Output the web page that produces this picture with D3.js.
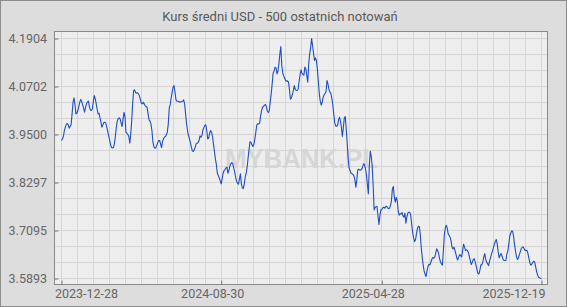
<!DOCTYPE html>
<html>
<head>
<meta charset="utf-8">
<script src="https://cdn.jsdelivr.net/npm/d3@7"></script>
<style>
body { margin: 0; background: #ffffff; }
#ChartContainer { width: 567px; height: 307px; }
</style>
</head>
<body>
<div id="ChartContainer"></div>
<script>
const ChartTitle = 'Kurs średni USD - 500 ostatnich notowań';
const Watermark = 'MYBANK.PL';

// 500 ostatnich notowań, od najstarszego
const Rates =
[
    3.9349,3.9390,3.9449,3.9599,3.9683,3.9758,3.9774,3.9741,3.9657,3.9708,
    3.9741,4.0017,4.0309,4.0417,4.0250,4.0017,4.0033,4.0100,4.0200,4.0309,
    4.0376,4.0325,4.0242,4.0158,4.0058,4.0184,4.0267,4.0317,4.0334,4.0200,
    4.0108,4.0100,4.0133,4.0309,4.0476,4.0401,4.0284,4.0142,4.0017,4.0033,
    3.9916,3.9808,3.9683,3.9741,3.9799,3.9808,3.9783,3.9699,3.9582,3.9474,
    3.9365,3.9248,3.9173,3.9165,3.9173,3.9265,3.9449,3.9683,3.9833,3.9900,
    3.9916,3.9883,3.9783,3.9699,3.9891,4.0058,3.9950,3.9557,3.9532,3.9499,
    3.9449,3.9282,3.9516,3.9850,4.0284,4.0601,4.0618,4.0551,4.0534,4.0543,
    4.0518,4.0467,4.0376,4.0284,4.0267,4.0309,4.0267,4.0217,4.0200,4.0184,
    4.0017,3.9866,
    3.9833,3.9766,3.9599,3.9323,3.9198,3.9156,3.9165,3.9223,3.9290,3.9349,
    3.9349,3.9265,3.9173,3.9323,3.9390,3.9432,3.9449,3.9490,3.9557,3.9766,
    4.0158,4.0250,4.0409,4.0559,4.0685,4.0726,4.0559,4.0367,4.0334,4.0334,
    4.0325,4.0309,4.0317,4.0325,4.0334,4.0367,4.0267,4.0017,3.9766,3.9599,
    3.9474,3.9390,3.9298,3.9182,3.9090,3.9073,3.9115,3.9182,3.9265,3.9282,
    3.9298,3.9349,3.9465,3.9432,3.9474,3.9616,3.9666,3.9733,3.9741,3.9599,
    3.9390,3.9407,3.9532,3.9599,3.9557,3.9449,3.9257,3.9073,3.8889,3.8747,
    3.8530,3.8472,3.8413,3.8338,3.8263,3.8388,3.8530,3.8597,3.8622,3.8664,
    3.8681,3.8530,3.8597,3.8706,3.8764,3.8797,3.8764,3.8664,3.8572,3.8430,
    3.8330,3.8280,3.8255,3.8388,3.8514,3.8263,3.8163,3.8146,3.8263,3.8430,
    3.8530,3.8681,3.8914,3.9131,3.9323,3.9298,3.9240,3.9198,3.9248,3.9382,
    3.9557,3.9733,3.9766,3.9766,3.9783,3.9966,4.0100,4.0184,4.0200,4.0234,
    4.0250,4.0200,4.0083,4.0050,4.0100,4.0309,4.0518,4.0768,4.1035,4.1094,
    4.1186,4.1169,4.1019,4.1085,4.1269,4.1520,4.1703,4.1227,4.1035,4.0968,
    4.0910,4.0852,4.0835,4.0843,4.0810,4.0618,4.0384,4.0417,4.0501,4.0601,
    4.0726,4.0634,4.0601,4.0601,4.0634,4.0826,4.0993,4.1119,4.1035,4.1002,
    4.0985,4.1186,4.1144,4.0977,4.0810,4.1269,4.1520,4.1670,4.1904,4.1728,
    4.1536,4.1353,4.1419,4.1353,4.1144,4.0835,4.0518,4.0334,4.0234,4.0300,
    4.0434,4.0492,4.0526,4.0576,4.0852,4.0768,4.0634,4.0559,4.0534,4.0409,
    4.0250,4.0017,3.9799,3.9716,3.9708,3.9724,3.9866,3.9933,3.9833,3.9683,
    3.9449,3.9674,3.9916,3.9950,3.9641,3.9282,3.8898,3.8664,3.8597,3.8530,
    3.8522,3.8497,3.8463,3.8363,3.8180,3.8363,3.8614,3.8630,3.8605,3.8605,
    3.8630,3.8681,3.8764,3.8747,3.8647,3.8488,3.8246,3.8013,3.8722,3.9081,
    3.8948,3.8714,3.8221,3.7612,3.7670,3.7695,3.7695,3.7470,3.7244,3.7461,
    3.7612,3.7620,3.7662,3.7679,3.7653,3.7695,3.7704,3.7662,3.7645,3.7653,
    3.7720,3.7846,3.8138,3.8196,3.7929,3.7804,3.7929,3.7846,3.7595,3.7478,
    3.7512,3.7512,3.7545,3.7461,3.7428,3.7528,3.7278,3.7428,3.7528,3.7553,
    3.7553,3.7486,3.7261,3.7052,3.6910,3.6818,3.6860,3.7011,3.7144,3.7203,
    3.7194,3.6994,3.6660,3.6426,3.6234,3.6075,3.6000,3.5942,3.6092,3.6192,
    3.6251,3.6234,3.6301,3.6376,3.6418,3.6401,3.6426,3.6526,3.6635,3.6593,
    3.6526,3.6393,3.6309,3.6259,3.6226,3.6593,3.6994,3.7161,3.7228,3.7152,
    3.7011,3.6969,3.6927,3.6827,3.6677,3.6635,3.6677,3.6601,3.6510,3.6401,
    3.6359,3.6434,3.6493,3.6459,3.6434,3.6593,3.6752,3.6685,3.6593,3.6610,
    3.6593,3.6543,3.6443,3.6343,3.6242,3.6292,3.6368,3.6393,3.6309,3.6217,
    3.6109,3.6017,3.6009,3.6109,3.6234,3.6234,3.6309,3.6434,3.6518,3.6376,
    3.6301,3.6259,3.6217,3.6326,3.6418,3.6510,3.6576,3.6668,3.6752,3.6818,
    3.6869,3.6760,3.6551,3.6409,3.6476,3.6518,3.6451,3.6376,3.6343,3.6343,
    3.6343,3.6510,3.6576,3.6760,3.6952,3.7027,3.7086,3.7077,3.6944,3.6735,
    3.6576,3.6443,3.6368,3.6401,3.6493,3.6568,3.6643,3.6677,3.6685,3.6635,
    3.6593,3.6601,3.6593,3.6510,3.6393,3.6276,3.6226,3.6259,3.6301,3.6326,
    3.6301,3.6176,3.6059,3.5975,3.5925,3.5910,3.5900,3.5893
];

const XTickIndex = [0, 166, 333, 499];
const XTickLabels = ['2023-12-28', '2024-08-30', '2025-04-28', '2025-12-19'];
const YTickValues = [3.5893, 3.7095, 3.8297, 3.9500, 4.0702, 4.1904];

function DrawChart()
{
    const Width = 567;
    const Height = 307;
    const Plot = { left: 54.5, right: 547.5, top: 31.5, bottom: 284.5 };
    const FontFamily = 'Roboto, "Liberation Sans", Arial, sans-serif';

    const Svg = d3.select('#ChartContainer')
                  .append('svg')
                  .attr('width', Width)
                  .attr('height', Height);

    Svg.append('rect')
       .attr('x', 0.5).attr('y', 0.5)
       .attr('width', Width - 1).attr('height', Height - 1)
       .attr('fill', '#dddddd')
       .attr('stroke', '#8c8c8c');

    Svg.append('text')
       .attr('x', 280)
       .attr('y', 21)
       .attr('text-anchor', 'middle')
       .style('font-family', FontFamily)
       .style('font-size', '13px')
       .attr('fill', '#595959')
       .text(ChartTitle);

    Svg.append('rect')
       .attr('x', Plot.left).attr('y', Plot.top)
       .attr('width', Plot.right - Plot.left).attr('height', Plot.bottom - Plot.top)
       .attr('fill', '#eeeeee');

    const xScale = d3.scaleLinear()
                     .domain([0, Rates.length - 1])
                     .range([61.5, 541.5]);
    const yScale = d3.scaleLinear()
                     .domain([YTickValues[0], YTickValues[YTickValues.length - 1]])
                     .range([278.5, 38.5]);

    // siatka: 30 podziałek w poziomie, 15 w pionie
    const GridX = d3.range(31).map(k => xScale.domain()[0] + k * (xScale.domain()[1] - xScale.domain()[0]) / 30);
    const GridY = d3.range(16).map(k => yScale.domain()[0] + k * (yScale.domain()[1] - yScale.domain()[0]) / 15);
    const Grid = Svg.append('g').attr('stroke', '#d5d5d5').attr('stroke-width', 1);
    Grid.selectAll('.gx')
        .data(GridX)
        .enter()
        .append('line')
        .attr('x1', d => Math.round(xScale(d) - 0.5) + 0.5)
        .attr('x2', d => Math.round(xScale(d) - 0.5) + 0.5)
        .attr('y1', Plot.top).attr('y2', Plot.bottom);
    Grid.selectAll('.gy')
        .data(GridY)
        .enter()
        .append('line')
        .attr('y1', d => Math.round(yScale(d) - 0.5) + 0.5)
        .attr('y2', d => Math.round(yScale(d) - 0.5) + 0.5)
        .attr('x1', Plot.left).attr('x2', Plot.right);

    Svg.append('text')
       .attr('x', 301.5)
       .attr('y', 168)
       .attr('text-anchor', 'middle')
       .attr('textLength', 153)
       .attr('lengthAdjust', 'spacingAndGlyphs')
       .style('font-family', '"Liberation Sans", Arial, sans-serif')
       .style('font-weight', 'bold')
       .style('font-size', '28px')
       .attr('fill', '#d6d6d6')
       .text(Watermark);

    const Line = d3.line()
                   .x((d, i) => xScale(i))
                   .y(d => yScale(d));
    Svg.append('path')
       .datum(Rates)
       .attr('d', Line)
       .attr('fill', 'none')
       .attr('stroke', '#1f4ec2')
       .attr('stroke-width', 1.1)
       .attr('stroke-linejoin', 'round');

    Svg.append('rect')
       .attr('x', Plot.left).attr('y', Plot.top)
       .attr('width', Plot.right - Plot.left).attr('height', Plot.bottom - Plot.top)
       .attr('fill', 'none')
       .attr('stroke', '#8a8a8a');

    const xAxis = Svg.append('g')
                     .attr('transform', `translate(0, ${Plot.bottom})`)
                     .call(d3.axisBottom(xScale)
                             .tickValues(XTickIndex)
                             .tickFormat((d, i) => XTickLabels[i])
                             .tickSizeInner(-4)
                             .tickSizeOuter(0)
                             .tickPadding(5));
    const yAxis = Svg.append('g')
                     .attr('transform', `translate(${Plot.left}, 0)`)
                     .call(d3.axisLeft(yScale)
                             .tickValues(YTickValues)
                             .tickFormat(d3.format('.4f'))
                             .tickSizeInner(-4)
                             .tickSizeOuter(0)
                             .tickPadding(7.5));
    [xAxis, yAxis].forEach(Axis =>
    {
        Axis.select('.domain').remove();
        Axis.selectAll('line').attr('stroke', '#7a7a7a');
        Axis.selectAll('text')
            .attr('fill', '#666666')
            .style('font-family', FontFamily)
            .style('font-size', '12.5px');
    });

    // etykiety dat: skrajne dosunięte do krawędzi wykresu, środkowe lekko w lewo
    const LastTick = XTickIndex.length - 1;
    xAxis.selectAll('.tick text')
         .attr('text-anchor', (d, i) => i === 0 ? 'start' : (i === LastTick ? 'end' : 'middle'))
         .attr('x', (d, i) => i === 0 ? Plot.left - xScale(d) : (i === LastTick ? 545 - xScale(d) : -9));
}

DrawChart();
</script>
</body>
</html>
